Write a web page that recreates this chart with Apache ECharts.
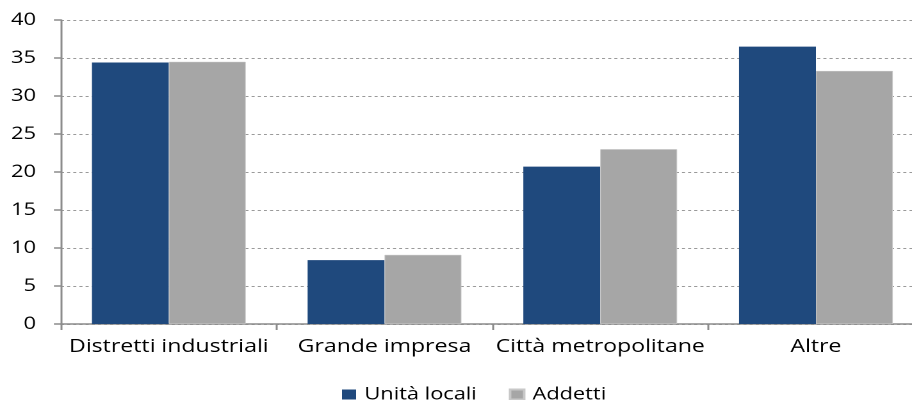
<!DOCTYPE html>
<html>
<head>
<meta charset="utf-8">
<script src="https://cdn.jsdelivr.net/npm/echarts@6/dist/echarts.min.js"></script>
<style>
  html, body { margin: 0; padding: 0; background: #fff; overflow: hidden; }
  /* The chart is laid out on a narrower canvas and widened horizontally,
     which gives the broad, stretched lettering of the printed figure. */
  #chart {
    width: 712px;
    height: 400px;
    transform: scaleX(1.2809);
    transform-origin: 0 0;
  }
</style>
</head>
<body>
<div id="chart"></div>
<script>
// Categories and the two series (percentage shares)
const categories = ['Distretti industriali', 'Grande impresa', 'Città metropolitane', 'Altre'];
const unitaLocali = [34.4, 8.4, 20.7, 36.5];
const addetti = [34.5, 9.1, 23.0, 33.3];
const seriesNames = ['Unità locali', 'Addetti'];
const yTicks = { min: 0, max: 40, interval: 5 };

const FONT = '"Open Sans", "Noto Sans", sans-serif';

const chart = echarts.init(document.getElementById('chart'), null, {
  renderer: 'canvas',
  devicePixelRatio: 2
});

chart.setOption({
  animation: false,
  backgroundColor: '#ffffff',
  grid: {
    left: 47.6,
    top: 20,
    bottom: 76,
    width: 673.6,
    outerBoundsMode: 'none'
  },
  legend: {
    left: 262,
    top: 381,
    itemWidth: 11,
    itemHeight: 10,
    itemGap: 25,
    icon: 'rect',
    textStyle: { fontFamily: FONT, fontSize: 17, color: '#000', padding: [0, 0, 0, 1.5] },
    data: seriesNames
  },
  xAxis: {
    type: 'category',
    data: categories,
    axisLine: { lineStyle: { color: '#8c8c8c', width: 1.5 } },
    axisTick: {
      show: true,
      interval: 0,
      alignWithLabel: false,
      length: 6,
      lineStyle: { color: '#8c8c8c', width: 1.5 }
    },
    axisLabel: {
      interval: 0,
      hideOverlap: false,
      fontFamily: FONT,
      fontSize: 18,
      color: '#000',
      margin: 14
    }
  },
  yAxis: {
    type: 'value',
    min: yTicks.min,
    max: yTicks.max,
    interval: yTicks.interval,
    axisLine: { show: true, lineStyle: { color: '#8c8c8c', width: 1.5 } },
    axisTick: { show: true, length: 5.5, lineStyle: { color: '#8c8c8c', width: 1.5 } },
    axisLabel: { fontFamily: FONT, fontSize: 17, color: '#000', margin: 19.5 },
    splitLine: { show: true, lineStyle: { color: '#9a9a9a', type: [2.4, 2.4], width: 1 } }
  },
  series: [
    {
      name: seriesNames[0],
      type: 'bar',
      data: unitaLocali,
      barGap: '0%',
      barCategoryGap: '28.7%',
      itemStyle: { color: '#1F497D' }
    },
    {
      name: seriesNames[1],
      type: 'bar',
      data: addetti,
      barGap: '0%',
      barCategoryGap: '28.7%',
      itemStyle: { color: '#A6A6A6', borderColor: '#c8c8c8', borderWidth: 0.5 }
    }
  ]
});
</script>
</body>
</html>
